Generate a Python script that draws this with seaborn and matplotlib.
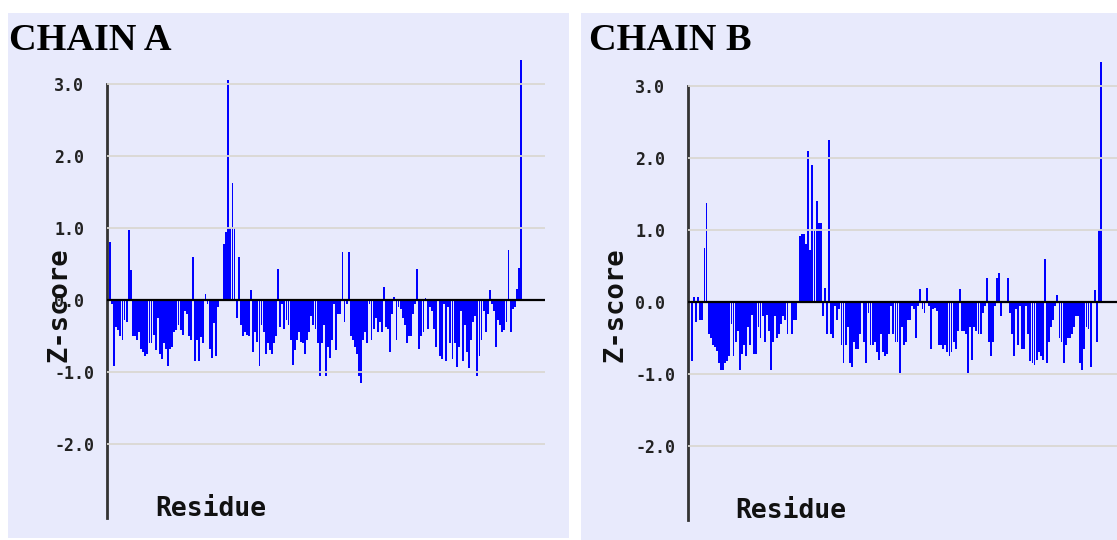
import numpy as np
import pandas as pd
import matplotlib
matplotlib.use("Agg")
import matplotlib.pyplot as plt
from matplotlib.patches import Rectangle
import seaborn as sns

# ---------------- data (Z-score per residue) ----------------
chain_a_z = [
    0.81, -0.05, -0.91, -0.38, -0.42, -0.5, -0.55, -0.28, -0.3, 0.97, 0.42, -0.5, -0.5, -0.55,
    -0.45, -0.68, -0.72, -0.78, -0.75, -0.6, -0.6, -0.48, -0.7, -0.25, -0.75, -0.82, -0.6, -0.68,
    -0.92, -0.68, -0.65, -0.45, -0.42, -0.35, -0.42, -0.48, -0.15, -0.2, -0.5, -0.55, 0.6, -0.85,
    -0.55, -0.85, -0.52, -0.6, 0.08, -0.05, -0.68, -0.8, -0.32, -0.78, -0.1, 0.0, 0.02,
    0.78, 0.95, 3.05, 1.0, 1.62, 1.0, -0.25, 0.6, -0.35, -0.5, -0.45, -0.48,
    -0.5, 0.14, -0.72, -0.45, -0.58, -0.92, -0.35, -0.45, -0.75, -0.6, -0.7, -0.75, -0.6, -0.5,
    0.43, -0.38, -0.05, -0.4, -0.28, -0.35, -0.55, -0.9, -0.7, -0.55, -0.45, -0.58, -0.6, -0.75,
    -0.55, -0.45, -0.22, -0.35, -0.4, -0.6, -1.05, -0.6, -0.35, -1.05, -0.65, -0.8, -0.55, -0.05,
    -0.7, -0.2, -0.2, 0.67, -0.3, -0.05, 0.67, -0.5, -0.55, -0.65, -0.75, -1.05, -1.15, -0.55,
    -0.45, -0.6, -0.05, -0.55, -0.4, -0.25, -0.45, -0.3,
    -0.45, 0.18, -0.38, -0.4, -0.72, -0.2, 0.04, -0.55, -0.1, -0.12, -0.25, -0.35, -0.6, -0.5,
    -0.5, -0.2, -0.05, 0.43, -0.68, -0.5, -0.45, 0.03, -0.4, -0.1, -0.15, -0.4, -0.65, -0.02,
    -0.78, -0.82, -0.05, -0.85, -0.1, -0.6, -0.82, -0.6, -0.93, -0.65, -0.15, -0.85, -0.35, -0.72,
    -0.95, -0.55, -0.3, -0.22, -1.05, -0.78, -0.55, -0.15, -0.45, -0.2, 0.14, -0.05, -0.15, -0.65,
    -0.28, -0.35, -0.45, -0.42, -0.3, 0.7, -0.45, -0.12, -0.1, 0.15, 0.45, 3.33,
]

chain_b_z = [
    -0.82, 0.07, -0.28, 0.07, -0.25, -0.25, 0.75, 1.38, -0.45, -0.5, -0.6, -0.62, -0.68, -0.85,
    -0.95, -0.95, -0.85, -0.82, -0.75, -0.3, -0.75, -0.55, -0.4, -0.95, -0.72, -0.6, -0.75, -0.35,
    -0.6, -0.18, -0.72, -0.72, -0.35, -0.5, -0.2, -0.55, -0.18, -0.4, -0.95, -0.55, -0.2, -0.5,
    -0.45, -0.3, -0.2, -0.25, -0.45, 0.0, -0.45, -0.25, -0.25,
    0.02, 0.92, 0.95, 0.95, 0.8, 2.1, 0.72, 1.9, 1.0, 1.4, 1.1, 1.1, -0.2, 0.2, -0.45, 2.25,
    -0.45, -0.5, -0.05, -0.25, -0.1, -0.6, -0.85, -0.6, -0.35, -0.85, -0.9, -0.55, -0.65, -0.65,
    -0.45, 0.02, -0.55, -0.85, -0.15, -0.6, -0.6, -0.55, -0.7, -0.8, -0.45, -0.7, -0.75, -0.72,
    -0.45, -0.05, -0.45, -0.55, -0.55, -0.98, -0.35, -0.6, -0.55, -0.25, -0.25, -0.05, -0.1, -0.5,
    -0.05, 0.18, -0.1, -0.15, 0.2, -0.05, -0.65, -0.1, -0.08, -0.12, -0.6, -0.6, -0.65, -0.6,
    -0.7, -0.75, -0.7, -0.55, -0.65, -0.4, 0.18, -0.4, -0.4, -0.45, -0.98,
    -0.35, -0.8, -0.35, -0.4, -0.45, -0.45, -0.15, -0.05, 0.33, -0.55, -0.75, -0.55, -0.05, 0.33,
    0.4, -0.2, 0.02, 0.02, 0.33, -0.15, -0.45, -0.75, -0.1, -0.6, -0.05, -0.65, -0.65, -0.05,
    -0.45, -0.82, -0.85, -0.88, -0.8, -0.7, -0.75, -0.8, 0.6, -0.85, -0.55, -0.35, -0.25, -0.05,
    0.1, -0.5, -0.55, -0.85, -0.6, -0.5, -0.5, -0.45, -0.35, -0.2, -0.2, -0.85, -0.95, -0.65,
    -0.35, -0.38, -0.9, -0.02, 0.17, -0.55, 1.0, 3.34,
]

panel_titles = ["CHAIN A", "CHAIN B"]
ytick_values = [3.0, 2.0, 1.0, 0.0, -1.0, -2.0]
ytick_labels = ["3.0", "2.0", "1.0", "0.0", "-1.0", "-2.0"]
x_label = "Residue"
y_label = "Z-score"

# ---------------- style ----------------
sns.set_style("white")
plt.rcParams["font.family"] = ["DejaVu Sans Mono", "DejaVu Sans"]

W, H = 1117, 540
DPI = 100
fig = plt.figure(figsize=(W / DPI, H / DPI), dpi=DPI, facecolor="white")

PANEL = "#E8EAFC"
GRID = "#DAD8D2"
BAR = "#0000FF"

def fx(px):
    return px / W

def fy(py):
    return 1 - py / H

# panel backgrounds (drawn beneath the axes)
fig.patches.append(Rectangle((fx(8), fy(538)), fx(569) - fx(8), fy(13) - fy(538),
                             transform=fig.transFigure, facecolor=PANEL, edgecolor="none", zorder=-5))
fig.patches.append(Rectangle((fx(581), fy(540)), fx(1117) - fx(581), fy(13) - fy(540),
                             transform=fig.transFigure, facecolor=PANEL, edgecolor="none", zorder=-5))

YMIN, YMAX = -3.03, 3.4

panels = [
    dict(z=chain_a_z, spine=107, x0=110, x1=521, right=545, zero=300,
         title_x=9, zl_x=60, res_x=211, res_y=509),
    dict(z=chain_b_z, spine=688, x0=692, x1=1101, right=1117, zero=302,
         title_x=589, zl_x=615, res_x=791, res_y=511),
]

for title, p in zip(panel_titles, panels):
    z = p["z"]
    n = len(z)
    top_px = p["zero"] - YMAX * 72
    bot_px = p["zero"] - YMIN * 72
    ax = fig.add_axes([fx(p["spine"]), fy(bot_px), fx(p["right"]) - fx(p["spine"]),
                       fy(top_px) - fy(bot_px)])
    ax.set_facecolor("none")
    ax.set_zorder(2)

    df = pd.DataFrame({"residue": np.arange(n), "z": z})
    sns.barplot(data=df, x="residue", y="z", native_scale=True, color=BAR, saturation=1,
                width=0.9, linewidth=0, errorbar=None, ax=ax, zorder=2)

    pitch = (p["x1"] - p["x0"]) / (n - 1)
    ax.set_xlim(-(p["x0"] - p["spine"]) / pitch, (n - 1) + (p["right"] - p["x1"]) / pitch)
    ax.set_ylim(YMIN, YMAX)

    for v in ytick_values:
        if v == 0:
            ax.axhline(0, color="black", lw=1.6, zorder=5)
        else:
            ax.axhline(v, color=GRID, lw=1.3, zorder=4)

    for s in ["top", "right", "bottom"]:
        ax.spines[s].set_visible(False)
    ax.spines["left"].set_color("#333333")
    ax.spines["left"].set_linewidth(2.0)
    ax.spines["left"].set_bounds(YMIN, 3.0)

    ax.set_xticks([])
    ax.set_xlabel("")
    ax.set_ylabel("")
    ax.set_yticks(ytick_values)
    ax.set_yticklabels(ytick_labels, fontsize=12, fontweight="bold", color="#222222",
                       family=["DejaVu Sans Mono"])
    ax.tick_params(axis="y", length=0, pad=38)
    for lab in ax.get_yticklabels():
        lab.set_horizontalalignment("left")

    fig.text(fx(p["title_x"]), fy(50), title, fontsize=27.5, fontweight="bold",
             family=["Liberation Serif"], ha="left", va="baseline", color="black")
    fig.text(fx(p["zl_x"]), fy(305), y_label, rotation=90, fontsize=19.5, fontweight="bold",
             family=["DejaVu Sans Mono"], ha="center", va="center", color="#111111")
    fig.text(fx(p["res_x"]), fy(p["res_y"]), x_label, fontsize=19, fontweight="bold",
             family=["DejaVu Sans Mono"], ha="center", va="center", color="#111111")

fig.savefig("out.png", dpi=DPI, facecolor="white")
